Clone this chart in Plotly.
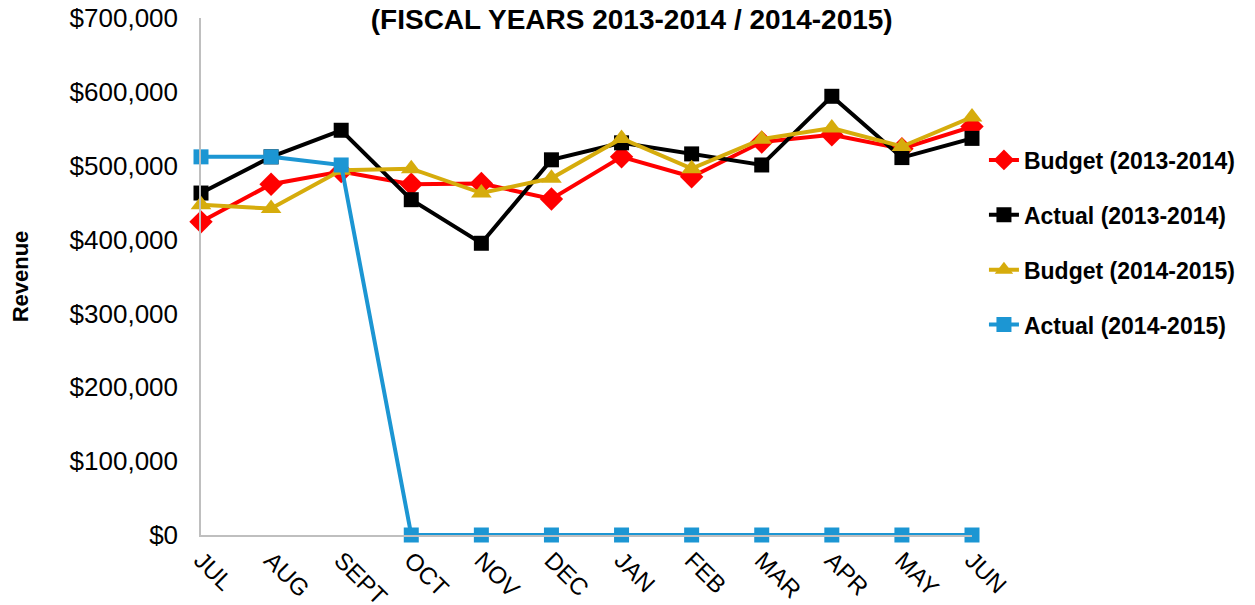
import plotly.graph_objects as go

months = ["JUL", "AUG", "SEPT", "OCT", "NOV", "DEC", "JAN", "FEB", "MAR", "APR", "MAY", "JUN"]

budget_1314 = [424000, 475000, 492000, 475000, 476000, 455000, 512000, 485000, 532000, 542000, 523000, 553000]
actual_1314 = [463000, 512000, 548000, 454000, 395000, 508000, 531000, 516000, 501000, 594000, 511000, 537000]
budget_1415 = [447000, 442000, 494000, 496000, 463000, 483000, 537000, 496000, 536000, 551000, 526000, 566000]
actual_1415 = [512000, 512000, 501000, 0, 0, 0, 0, 0, 0, 0, 0, 0]

series = [
    ("Budget (2013-2014)", budget_1314, "#FF0000", "diamond", 18),
    ("Actual (2013-2014)", actual_1314, "#000000", "square", 15),
    ("Budget (2014-2015)", budget_1415, "#D6AC0C", "triangle-up", 18),
    ("Actual (2014-2015)", actual_1415, "#1C96D3", "square", 15),
]

fig = go.Figure()
for i, (name, vals, color, sym, size) in enumerate(series):
    fig.add_trace(go.Scatter(
        x=months, y=vals, name=name, mode="lines+markers",
        line=dict(color=color, width=4),
        marker=dict(symbol=sym, size=size, color=color),
        legendgroup=str(i), cliponaxis=False,
    ))

# page body adds an 8px offset, margins compensate for it
fig.update_layout(
    width=1255, height=605,
    margin=dict(l=193, r=291, t=10, b=78),
    paper_bgcolor="white", plot_bgcolor="white",
    font=dict(family="Liberation Sans, Arial, sans-serif", color="#000000"),
    showlegend=True,
    legend=dict(
        x=1.0155, xanchor="left", y=0.767, yanchor="top",
        font=dict(size=23, family="Liberation Sans, Arial, sans-serif", weight="bold"),
        traceorder="grouped", tracegroupgap=22, itemwidth=30,
        bgcolor="rgba(0,0,0,0)",
    ),
    title=dict(
        text="<b>(FISCAL YEARS 2013-2014 / 2014-2015)</b>",
        x=0.497, xanchor="center", y=1 - 11 / 605, yanchor="middle",
        font=dict(size=28, family="Liberation Sans, Arial, sans-serif"),
    ),
)

fig.update_xaxes(
    type="category", range=[0, 11], showgrid=False, zeroline=False,
    showline=True, linecolor="#BFBFBF", linewidth=1.5,
    tickangle=45, tickfont=dict(size=24), ticks="", ticklabelstandoff=0,
    ticklabeloverflow="allow", automargin=False,
)
fig.update_yaxes(
    range=[0, 700000], dtick=100000, tickformat="$,.0f",
    showgrid=False, zeroline=False,
    showline=True, linecolor="#BFBFBF", linewidth=1.5,
    tickfont=dict(size=26), ticks="", ticklabelstandoff=16,
    ticklabeloverflow="allow",
    title=dict(text="<b>Revenue</b>", font=dict(size=22), standoff=36),
    automargin=False,
)

fig.write_html("out.html")
